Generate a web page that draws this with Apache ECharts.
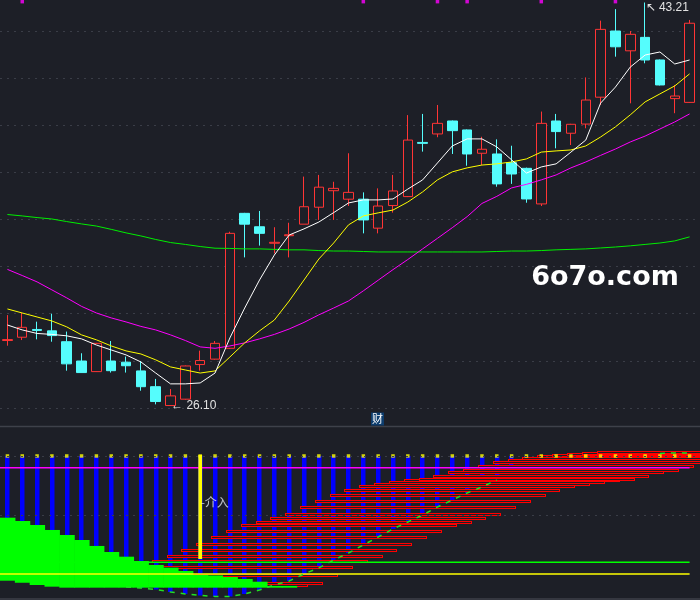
<!DOCTYPE html>
<html><head><meta charset="utf-8">
<script src="https://cdn.jsdelivr.net/npm/echarts@6/dist/echarts.min.js"></script>
<style>html,body{margin:0;padding:0;background:#1d1f27;}#c{width:700px;height:600px;}</style>
</head><body><div id="c"></div>
<script>
const categories = ['D01','D02','D03','D04','D05','D06','D07','D08','D09','D10','D11','D12','D13','D14','D15','D16','D17','D18','D19','D20','D21','D22','D23','D24','D25','D26','D27','D28','D29','D30','D31','D32','D33','D34','D35','D36','D37','D38','D39','D40','D41','D42','D43','D44','D45','D46','D47'];
const kOpen  = [28.86,29.00,29.33,29.27,28.81,27.99,27.54,27.99,27.94,27.57,26.90,26.10,26.37,27.84,28.07,28.53,34.26,33.69,32.99,33.31,33.80,34.52,35.22,34.86,34.86,33.63,34.59,34.97,37.27,37.63,38.18,37.80,36.81,36.78,36.41,36.17,34.66,38.18,37.66,38.05,39.19,42.00,41.16,41.73,40.77,39.13,38.97];
const kClose = [28.90,29.42,29.29,29.07,27.87,27.50,28.74,27.58,27.79,26.90,26.27,26.51,27.78,28.01,28.74,33.41,33.80,33.41,33.03,33.35,34.54,35.37,35.32,35.15,33.98,34.57,35.21,37.37,37.23,38.08,37.77,36.78,36.98,35.51,35.93,34.87,38.08,37.73,38.04,39.07,42.07,41.33,41.86,40.77,39.71,39.24,42.33];
const kLow   = [28.64,28.88,28.91,28.81,27.58,27.50,27.53,27.50,27.50,26.73,26.15,26.10,26.35,27.58,28.05,28.50,32.39,32.89,32.56,32.39,33.80,33.98,33.98,34.57,33.41,33.41,34.29,34.95,36.88,37.49,36.78,36.28,36.31,35.39,35.51,34.71,34.57,37.02,37.16,37.87,38.86,40.91,38.93,40.63,39.69,38.51,38.95];
const kHigh  = [29.94,30.03,29.66,30.00,29.24,28.32,28.76,28.84,28.18,27.99,27.23,26.80,27.80,28.43,28.84,33.48,34.28,34.36,33.67,33.86,35.82,35.89,35.60,36.81,35.15,35.32,35.89,38.43,38.48,38.86,38.20,37.82,37.51,37.40,37.13,36.20,38.58,38.48,38.06,40.03,42.44,42.93,42.00,43.21,40.79,39.71,42.47];
const ma5  = [29.52,29.31,29.16,29.12,29.06,28.93,28.67,28.46,28.25,27.95,27.48,27.02,27.02,27.06,27.48,28.97,30.24,31.43,32.49,33.34,33.60,33.89,34.29,34.70,34.83,34.83,34.87,35.29,35.68,36.40,37.12,37.42,37.42,37.08,36.53,35.97,36.23,36.36,36.86,37.37,38.94,39.62,40.47,40.98,41.11,40.60,40.77];
const ma10 = [30.20,30.03,29.86,29.69,29.44,29.10,28.89,28.63,28.42,28.29,28.04,27.74,27.61,27.48,27.57,28.16,28.76,29.27,29.73,30.54,31.43,32.32,33.00,33.77,34.15,34.28,34.40,34.74,35.17,35.68,36.02,36.19,36.31,36.36,36.44,36.57,36.86,36.91,36.95,37.12,37.50,37.93,38.44,38.99,39.33,39.67,40.18];
const ma20 = [31.88,31.62,31.35,31.01,30.67,30.31,30.03,29.82,29.65,29.46,29.31,29.10,28.86,28.59,28.53,28.63,28.76,28.93,29.12,29.35,29.63,29.95,30.24,30.54,30.97,31.42,31.87,32.30,32.75,33.20,33.65,34.12,34.68,34.98,35.34,35.49,35.68,35.89,36.19,36.44,36.72,36.99,37.29,37.54,37.84,38.14,38.48];
const ma60 = [34.21,34.15,34.08,34.02,33.91,33.81,33.72,33.58,33.43,33.30,33.15,33.02,32.94,32.85,32.78,32.77,32.75,32.75,32.73,32.71,32.71,32.68,32.66,32.66,32.64,32.62,32.62,32.62,32.62,32.62,32.62,32.62,32.62,32.64,32.66,32.66,32.68,32.71,32.73,32.75,32.79,32.83,32.88,32.94,33.00,33.09,33.26];
const extremeIdx = [11, 43];
const extremeVal = [26.10, 43.21];
const topSignalIdx = [1, 24, 29, 31, 36, 41];
const topSignalLevel = 43.3;

// lower indicator panel
const barTopLevel = 20;
const blueBottom = [-0.68,-1.02,-1.36,-1.69,-1.86,-2.03,-2.03,-2.20,-2.20,-2.37,-2.63,-3.05,-3.39,-3.64,-3.81,-3.81,-3.39,-2.71,-1.86,-1.19,0,1.02,2.37,3.56,4.92,6.27,7.63,8.81,10.0,11.36,12.54,13.73,14.75,15.93,18.14,19.49,19.83,19.9,19.9,19.9,19.9,19.9,20.0,20.17,20.42,20.51,20.51];
const curveValues = [null,null,null,null,null,null,null,null,-2.20,-2.37,-2.63,-3.05,-3.39,-3.64,-3.81,-3.81,-3.39,-2.71,-1.86,-1.19,0,1.02,2.37,3.56,4.92,6.27,7.63,8.81,10.0,11.36,12.54,13.73,14.75,15.93,null,null,null,null,null,null,null,null,null,null,20.42,20.51,20.51];
const greenTop    = [9.54,8.98,8.31,7.46,6.61,5.76,4.75,3.73,2.93,2.20,1.53,1.07,0.51,-0.17,-0.25,-0.51,-0.85,-1.31,-2.03,-2.03];
const greenBottom = [-1.14,-1.47,-1.86,-2.15,-2.32,-2.32,-2.32,-2.32,-2.32,-2.32,-2.32,-2.32,-2.32,-2.32,-2.32,-2.32,-2.32,-2.32,-2.32,-2.32];
const rowStart = [6,7,8,9,10,11,12,13,14,15,16,17,18,19,20,21,22,23,24,25,26,27,28,29,30,31,32,33,34,35,36,37,38,39,40];
const rowLevel = [-1.75,-1.36,-0.05,1.36,2.37,3.22,4.24,5.25,6.44,7.46,8.47,8.98,9.66,10.34,11.53,12.54,13.56,14.41,15.08,15.42,15.76,16.10,16.19,16.78,17.37,17.80,18.47,19.07,19.49,19.83,20.17,20.34,20.51,20.68,20.76];
const rowSpan = 14;
const levelLines = [18, 2, 0];
const levelColors = ['#ff00ff', '#00ff00', '#ffff00'];
const gridLevels = [10, 20];
const entryIdx = 13, entryTop = 20.17, entryBottom = 2.54, entryLabelLevel = 12.2, entryLabel = '介入';

const BG = '#1d1f27', RED = '#ff3535', CYAN = '#55fdfd', GRIDC = '#3a3d47';

const kData = categories.map((c, i) => [kOpen[i], kClose[i], kLow[i], kHigh[i]]);
const chart = echarts.init(document.getElementById('c'), null, {renderer: 'canvas'});

const lastIdx = categories.length - 1;
const option = {
  backgroundColor: BG,
  animation: false,
  grid: [
    {left: 0, right: 3, top: -16.1, height: 424, outerBoundsMode: 'none'},
    {left: 0, right: 3, top: 426, height: 173, outerBoundsMode: 'none'}
  ],
  xAxis: [
    {type: 'category', data: categories, gridIndex: 0, show: false, boundaryGap: true},
    {type: 'category', data: categories, gridIndex: 1, show: false, boundaryGap: true}
  ],
  yAxis: [
    {type: 'value', gridIndex: 0, min: 26, max: 44, interval: 2, scale: true,
     axisLine: {show: false}, axisTick: {show: false}, axisLabel: {show: false},
     splitLine: {show: true, lineStyle: {color: GRIDC, type: [2, 5], width: 1}}},
    {type: 'value', gridIndex: 1, min: -4.24, max: 25.08, show: false}
  ],
  graphic: [
    {type: 'line', shape: {x1: 0, y1: 426.5, x2: 700, y2: 426.5}, style: {stroke: '#3e414a', lineWidth: 1.5}},
    {type: 'line', shape: {x1: 0, y1: 599, x2: 700, y2: 599}, style: {stroke: '#3e414a', lineWidth: 1.5}},
    {type: 'text', x: 377.5, y: 419, style: {text: '财', fill: '#ffffff', font: '11px "Noto Sans CJK SC"', align: 'center', verticalAlign: 'middle', backgroundColor: '#0d3d6e', padding: [1, 1]}},
    {type: 'text', x: 605, y: 278, z: 100, style: {text: '6o7o.com', fill: '#ffffff', font: 'bold 27px "DejaVu Sans"', align: 'center', verticalAlign: 'middle'}}
  ],
  series: [
    {type: 'candlestick', xAxisIndex: 0, yAxisIndex: 0, data: kData, barWidth: 10,
     itemStyle: {color: BG, color0: CYAN, borderColor: RED, borderColor0: CYAN, borderWidth: 1},
     markPoint: {
       symbol: 'circle', symbolSize: 1, itemStyle: {color: 'rgba(0,0,0,0)'},
       label: {show: true, color: '#e2e2e2', fontSize: 12, fontFamily: 'Liberation Sans', position: 'right', distance: 0},
       data: [
         {coord: [extremeIdx[0], extremeVal[0]], label: {formatter: '\u2190 ' + extremeVal[0].toFixed(2)}},
         {coord: [extremeIdx[1], extremeVal[1]], label: {formatter: '\u2196 ' + extremeVal[1].toFixed(2), offset: [0, 5]}}
       ]
     }},
    {type: 'line', xAxisIndex: 0, yAxisIndex: 0, data: ma60, showSymbol: false, symbol: 'none', lineStyle: {color: '#00ee00', width: 1}},
    {type: 'line', xAxisIndex: 0, yAxisIndex: 0, data: ma20, showSymbol: false, symbol: 'none', lineStyle: {color: '#ff00ff', width: 1}},
    {type: 'line', xAxisIndex: 0, yAxisIndex: 0, data: ma10, showSymbol: false, symbol: 'none', lineStyle: {color: '#ffff00', width: 1}},
    {type: 'line', xAxisIndex: 0, yAxisIndex: 0, data: ma5, showSymbol: false, symbol: 'none', lineStyle: {color: '#ffffff', width: 1}},
    {type: 'scatter', xAxisIndex: 0, yAxisIndex: 0, symbol: 'rect', symbolSize: [3.5, 6], itemStyle: {color: '#ff00ff'},
     data: topSignalIdx.map(i => [i, topSignalLevel])},

    // lower panel
    {type: 'line', xAxisIndex: 1, yAxisIndex: 1, data: [], silent: true,
     markLine: {silent: true, symbol: 'none', label: {show: false},
       lineStyle: {color: GRIDC, type: [2, 5], width: 1},
       data: gridLevels.map(v => ({yAxis: v}))}},
    {type: 'custom', xAxisIndex: 1, yAxisIndex: 1, encode: {x: 0, y: [1, 2]},
     data: blueBottom.map((b, i) => [i, barTopLevel, b]),
     renderItem: (params, api) => {
       const p1 = api.coord([api.value(0), api.value(1)]);
       const p2 = api.coord([api.value(0), api.value(2)]);
       const x = Math.round(p1[0] - 2.2);
       return {type: 'rect', shape: {x: x, y: Math.min(p1[1], p2[1]), width: 4.5, height: Math.abs(p2[1] - p1[1])}, style: {fill: '#0000ff'}};
     }},
    {type: 'line', xAxisIndex: 1, yAxisIndex: 1, data: curveValues, showSymbol: false, symbol: 'none', connectNulls: false,
     lineStyle: {color: '#22e022', width: 1.5, type: [5, 6]}},
    {type: 'custom', xAxisIndex: 1, yAxisIndex: 1, encode: {x: 0, y: 1},
     data: rowStart.map((k, j) => [k, rowLevel[j]]),
     renderItem: (params, api) => {
       const p = api.coord([api.value(0), api.value(1)]);
       const bw = api.size([1, 0])[0];
       const x0 = Math.round(p[0] - 0.27 * bw);
       const w = Math.round((rowSpan + 0.54) * bw);
       const y0 = Math.round(p[1]);
       const st = {fill: '#ff0000'};
       return {type: 'group', children: [
         {type: 'rect', shape: {x: x0, y: y0 + 1, width: w, height: 1}, style: {fill: BG}},
         {type: 'rect', shape: {x: x0, y: y0, width: w, height: 1}, style: st},
         {type: 'rect', shape: {x: x0, y: y0 + 2, width: w, height: 1}, style: st},
         {type: 'rect', shape: {x: x0, y: y0, width: 1, height: 3}, style: st},
         {type: 'rect', shape: {x: x0 + w - 1, y: y0, width: 1, height: 3}, style: st}
       ]};
     }},
    {type: 'custom', xAxisIndex: 1, yAxisIndex: 1, encode: {x: 0, y: [1, 2]},
     data: greenTop.map((t, i) => [i, t, greenBottom[i]]),
     renderItem: (params, api) => {
       const p1 = api.coord([api.value(0), api.value(1)]);
       const p2 = api.coord([api.value(0), api.value(2)]);
       const bw = api.size([1, 0])[0];
       return {type: 'rect', shape: {x: p1[0] - bw / 2, y: p1[1], width: bw + 0.6, height: p2[1] - p1[1]}, style: {fill: '#00ff00'}};
     }},
    {type: 'custom', xAxisIndex: 1, yAxisIndex: 1, encode: {x: 0, y: 1},
     data: levelLines.map(v => [lastIdx, v]),
     renderItem: (params, api) => {
       const p = api.coord([api.value(0), api.value(1)]);
       return {type: 'line', shape: {x1: params.coordSys.x, y1: p[1], x2: p[0], y2: p[1]},
               style: {stroke: levelColors[params.dataIndex], lineWidth: 1.4}};
     }},
    {type: 'scatter', xAxisIndex: 1, yAxisIndex: 1, symbol: 'rect', symbolSize: [3.5, 3.5], itemStyle: {color: '#ffff00'},
     data: categories.map((c, i) => [i, barTopLevel])},
    {type: 'custom', xAxisIndex: 1, yAxisIndex: 1, encode: {x: 0, y: [1, 2]},
     data: [[entryIdx, entryTop, entryBottom]],
     renderItem: (params, api) => {
       const p1 = api.coord([api.value(0), api.value(1)]);
       const p2 = api.coord([api.value(0), api.value(2)]);
       return {type: 'rect', shape: {x: p1[0] - 1.9, y: p1[1], width: 3.8, height: p2[1] - p1[1]}, style: {fill: '#ffff00'}};
     }},
    {type: 'scatter', xAxisIndex: 1, yAxisIndex: 1, symbolSize: 1, itemStyle: {color: 'rgba(0,0,0,0)'},
     data: [[entryIdx, entryLabelLevel]],
     label: {show: true, position: 'right', distance: 0, formatter: '-' + entryLabel, color: '#e4e8f0', fontSize: 12, fontFamily: 'Noto Sans CJK SC'}}
  ]
};
chart.setOption(option);
</script>
</body></html>
